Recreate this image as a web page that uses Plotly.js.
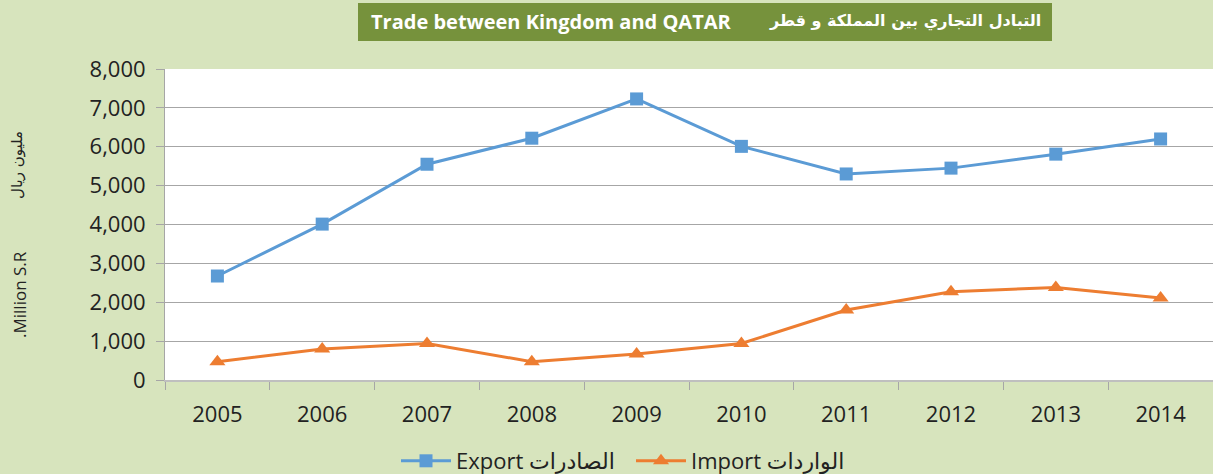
<!DOCTYPE html>
<html>
<head>
<meta charset="utf-8">
<script src="https://cdn.plot.ly/plotly-3.0.1.min.js"></script>
<style>html,body{margin:0;padding:0;background:#D7E4BD;}#chart{width:1213px;height:474px;}</style>
</head>
<body>
<div id="chart"></div>
<script>
const years = ['2005','2006','2007','2008','2009','2010','2011','2012','2013','2014'];
const exportValues = [2675, 4010, 5550, 6220, 7230, 6010, 5300, 5450, 5810, 6200];
const importValues = [470, 800, 940, 470, 670, 940, 1800, 2270, 2380, 2110];
const yTickVals = [0,1000,2000,3000,4000,5000,6000,7000,8000];
const yTickText = ['0','1,000','2,000','3,000','4,000','5,000','6,000','7,000','8,000'];
const exportName = 'Export الصادرات';
const importName = 'Import الواردات';
const titleEn = '<b>Trade between Kingdom and QATAR</b>';
const titleAr = '<b>التبادل التجاري بين المملكة و قطر</b>';
const yTitleEn = '.Million S.R';
const yTitleAr = 'مليون ريال';

const font = "'Open Sans', 'DejaVu Sans', sans-serif";
const W = 1213, H = 474;
const L = 165, R = 1213, T = 69, B = 380;
const px = x => (x - L) / (R - L);
const py = y => (B - y) / (B - T);

const traces = [
  {x: years, y: exportValues, name: exportName, type: 'scatter', mode: 'lines+markers',
   line: {color: '#5B9BD5', width: 3}, marker: {symbol: 'square', size: 13, color: '#5B9BD5'}},
  {x: years, y: importValues, name: importName, type: 'scatter', mode: 'lines+markers',
   line: {color: '#ED7D31', width: 3}, marker: {symbol: 'triangle-up', size: 14, color: '#ED7D31'}}
];

const layout = {
  width: W, height: H,
  paper_bgcolor: '#D7E4BD', plot_bgcolor: '#FFFFFF',
  margin: {l: L, r: W - R, t: T, b: H - B, autoexpand: false},
  font: {family: font, color: '#222222'},
  showlegend: true,
  legend: {orientation: 'h', xref: 'container', yref: 'container', x: 396 / W, xanchor: 'left',
           y: (H - 461) / H, yanchor: 'middle', entrywidth: 170, entrywidthmode: 'pixels',
           font: {size: 22, family: font, color: '#222222'}, bgcolor: 'rgba(0,0,0,0)', itemwidth: 50},
  xaxis: {type: 'category', range: [-0.5, 9.5], tickson: 'boundaries', ticks: 'outside', ticklen: 8, tickcolor: '#A6A6A6',
          showline: true, linecolor: '#BFBFBF', linewidth: 2, showgrid: false, automargin: false,
          ticklabelstandoff: 14,
          tickfont: {size: 22, family: font, color: '#222222'}},
  yaxis: {range: [0, 8000], tickvals: yTickVals, ticktext: yTickText, ticks: 'outside', ticklen: 8,
          tickcolor: '#A6A6A6', showline: true, linecolor: '#A6A6A6', linewidth: 1, automargin: false,
          showgrid: true, gridcolor: '#A6A6A6', gridwidth: 1, zeroline: false,
          ticklabelstandoff: 6,
          tickfont: {size: 22, family: font, color: '#222222'}},
  shapes: [
    {type: 'rect', xref: 'paper', yref: 'paper', x0: px(358), x1: px(1052), y0: py(41), y1: py(3),
     fillcolor: '#76923C', line: {width: 0}, layer: 'above'}
  ],
  annotations: [
    {xref: 'paper', yref: 'paper', x: px(551), y: py(22), xanchor: 'center', yanchor: 'middle',
     text: titleEn, showarrow: false, font: {size: 20, color: '#FFFFFF', family: font}},
    {xref: 'paper', yref: 'paper', x: px(905), y: py(21), xanchor: 'center', yanchor: 'middle',
     text: titleAr, showarrow: false, font: {size: 16, color: '#FFFFFF', family: "'DejaVu Sans', sans-serif"}},
    {xref: 'paper', yref: 'paper', x: px(19), y: py(295), xanchor: 'center', yanchor: 'middle',
     text: yTitleEn, showarrow: false, textangle: -90, font: {size: 17, color: '#222222', family: font}},
    {xref: 'paper', yref: 'paper', x: px(17), y: py(165), xanchor: 'center', yanchor: 'middle',
     text: yTitleAr, showarrow: false, textangle: -90, font: {size: 15, color: '#222222', family: "'DejaVu Sans', sans-serif"}}
  ]
};

Plotly.newPlot('chart', traces, layout, {displayModeBar: false, staticPlot: true});
</script>
</body>
</html>
